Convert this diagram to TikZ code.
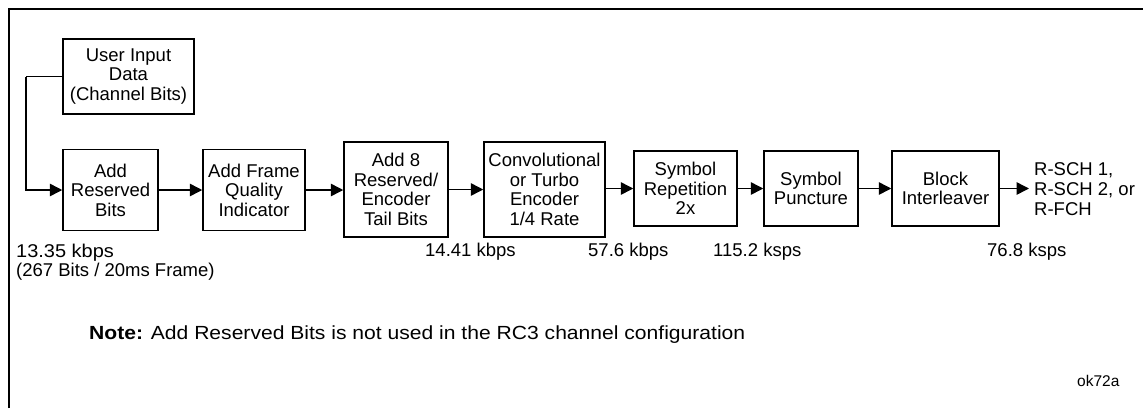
\documentclass[tikz,border=0pt]{standalone}
\usepackage{fontspec}
\usepackage{graphicx}
\setmainfont{Liberation Sans}
\usetikzlibrary{arrows.meta}
\begin{document}
\begin{tikzpicture}[x=1pt,y=-1pt,
  blk/.style={draw,line width=1.5pt,align=center,inner sep=0pt,
    font=\fontsize{18.5}{19.5}\selectfont},
  lbl/.style={anchor=base west,inner sep=0pt,font=\fontsize{18.5}{20}\selectfont},
  arr/.style={line width=1.5pt,-{Triangle[length=12.5pt,width=12.5pt]}}]
\useasboundingbox (0,0) rectangle (1143,408);
\draw[line width=2pt] (9,408) -- (9,9) -- (1143,9);
\node[blk,minimum width=131pt,minimum height=75pt] (ui) at (128.5,76.5) {User Input\\Data\\(Channel Bits)};
\node[blk,minimum width=95pt,minimum height=81pt] (arb) at (110.5,190) {Add\\Reserved\\Bits};
\node[blk,minimum width=102pt,minimum height=81pt] (afq) at (254,190) {Add Frame\\Quality\\Indicator};
\node[blk,minimum width=104pt,minimum height=95pt] (a8) at (396,189.5) {Add 8\\Reserved/\\Encoder\\Tail Bits};
\node[blk,minimum width=121pt,minimum height=95pt] (conv) at (544.5,189.5) {Convolutional\\or Turbo\\Encoder\\1/4 Rate};
\node[blk,minimum width=103pt,minimum height=75pt] (rep) at (685.5,188.5) {Symbol\\Repetition\\2x};
\node[blk,minimum width=94pt,minimum height=75pt] (punc) at (811,188.5) {Symbol\\Puncture};
\node[blk,minimum width=107pt,minimum height=75pt] (bil) at (945.5,188.5) {Block\\Interleaver};
\node[anchor=west,inner sep=0pt,align=left,font=\fontsize{18.5}{20}\selectfont] (out) at (1034,189) {R-SCH 1,\\R-SCH 2, or\\R-FCH};
\coordinate (corner) at (26,76.5);
\draw[line width=1.5pt] (ui.west) -- (corner);
\draw[arr] (corner) |- (arb.west);
\draw[arr] (arb) -- (afq);
\draw[arr] (afq.east) -- (a8.west |- afq.east);
\draw[arr] (a8) -- (conv);
\draw[arr] (conv.east |- rep.west) -- (rep.west);
\draw[arr] (rep) -- (punc);
\draw[arr] (punc) -- (bil);
\draw[arr,shorten >=5pt] (bil.east) -- (out.west |- bil.east);
\node[lbl] (r1) at (16,257) {\scalebox{1.08}[1]{13.35 kbps}};
\node[lbl] (r1b) at (16,276) {(267 Bits / 20ms Frame)};
\node[lbl] (r2) at (425,256) {14.41 kbps};
\node[lbl] (r3) at (588,256) {57.6 kbps};
\node[lbl] (r4) at (713,256) {115.2 ksps};
\node[lbl] (r5) at (987,256) {76.8 ksps};
\node[lbl,font=\fontsize{19}{22}\selectfont] (note) at (89,339) {\scalebox{1.11}[1]{\textbf{Note:} Add Reserved Bits is not used in the RC3 channel configuration}};
\node[lbl,font=\fontsize{15.5}{18}\selectfont] (code) at (1077,386) {ok72a};
\end{tikzpicture}
\end{document}
